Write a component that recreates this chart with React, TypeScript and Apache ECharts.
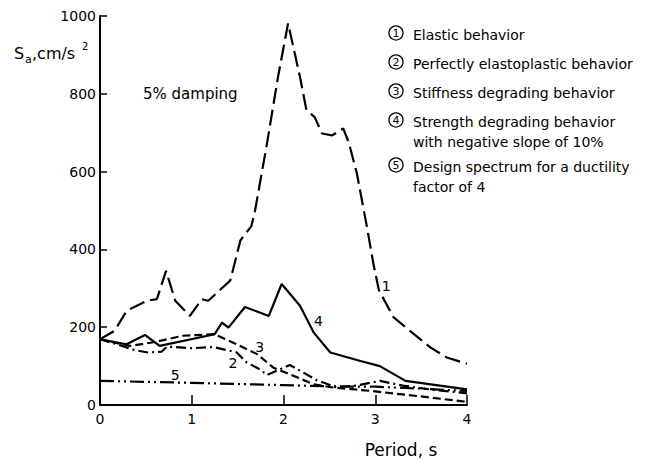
import React, { useEffect, useRef } from "react";
import * as echarts from "echarts";

// ---- Data ----
const elasticX = [0, 0.16, 0.29, 0.51, 0.62, 0.72, 0.82, 0.98, 1.11, 1.18, 1.42, 1.53, 1.65, 1.69, 1.82, 1.94, 2.05, 2.18, 2.25, 2.34, 2.42, 2.53, 2.65, 2.71, 2.8, 2.91, 2.98, 3.04, 3.2, 3.6, 3.78, 4.0];
const elasticY = [169, 191, 242, 268, 272, 345, 268, 229, 272, 268, 320, 423, 460, 500, 672, 843, 981, 843, 758, 740, 698, 693, 711, 676, 595, 457, 363, 295, 225, 148, 122, 106];

const elastoplasticX = [0, 0.2, 0.38, 0.52, 0.67, 0.73, 0.87, 1.0, 1.24, 1.49, 1.6, 1.74, 1.82, 2.07, 2.36, 2.58, 2.8, 3.05, 3.3, 3.6, 4.0];
const elastoplasticY = [169, 155, 141, 135, 137, 150, 148, 146, 149, 135, 109, 92, 77, 103, 64, 45, 50, 62, 50, 40, 30];

const stiffnessX = [0, 0.2, 0.33, 0.6, 0.9, 1.25, 1.49, 1.71, 1.89, 2.07, 2.33, 2.54, 2.96, 3.5, 4.0];
const stiffnessY = [169, 158, 152, 162, 178, 182, 156, 131, 96, 79, 53, 45, 36, 22, 8];

const strengthX = [0, 0.29, 0.49, 0.65, 1.25, 1.33, 1.4, 1.58, 1.84, 1.98, 2.18, 2.33, 2.51, 2.84, 3.05, 3.33, 4.0];
const strengthY = [169, 156, 180, 152, 182, 212, 199, 252, 229, 311, 255, 186, 135, 113, 100, 62, 40];

const designX = [0, 1, 2, 2.5, 3, 3.5, 4];
const designY = [62, 57, 51, 48, 47, 42, 36];

const curveLabels = ["1", "2", "3", "4", "5"];
const curveLabelPos: [number, number][] = [[3.12, 307], [1.45, 109], [1.74, 149], [2.38, 216], [0.82, 77]];

const legendNums = ["1", "2", "3", "4", "5"];
const legendLines = [
  ["Elastic behavior"],
  ["Perfectly elastoplastic behavior"],
  ["Stiffness degrading behavior"],
  ["Strength degrading behavior", "with negative slope of 10%"],
  ["Design spectrum for a ductility", "factor of 4"],
];

const xTicks = [0, 1, 2, 3, 4];
const yTicks = [0, 200, 400, 600, 800, 1000];

const FONT = "DejaVu Sans";

function pairs(xs: number[], ys: number[]) {
  return xs.map((x, i) => [x, ys[i]]);
}

export default function App() {
  const ref = useRef<HTMLDivElement>(null);
  useEffect(() => {
    if (!ref.current) return;
    const chart = echarts.init(ref.current, undefined, { renderer: "svg" });

    const mkLabel = (i: number) => ({
      symbol: "circle",
      symbolSize: 0,
      silent: true,
      label: {
        show: true,
        position: "inside",
        formatter: curveLabels[i],
        color: "#000",
        fontFamily: FONT,
        fontSize: 14,
      },
      data: [{ coord: curveLabelPos[i] }],
    });

    const base = (name: string, data: number[][], type: any, idx: number) => ({
      name,
      type: "line",
      data,
      symbol: "none",
      smooth: false,
      lineStyle: { color: "#000", width: 2.2, type },
      markPoint: mkLabel(idx),
      z: 3,
    });

    // legend graphics
    const rowY = [35, 64, 93, 122, 167];
    const lineGap = 20;
    const graphics: any[] = [];
    legendNums.forEach((n, i) => {
      graphics.push({
        type: "circle",
        shape: { cx: 396, cy: rowY[i] - 2, r: 7 },
        style: { fill: "none", stroke: "#000", lineWidth: 1.3 },
      });
      graphics.push({
        type: "text",
        x: 396,
        y: rowY[i] - 2,
        style: { text: n, fontSize: 11, fontFamily: FONT, fill: "#000", align: "center", verticalAlign: "middle" },
      });
      legendLines[i].forEach((t, j) => {
        graphics.push({
          type: "text",
          x: 413,
          y: rowY[i] + j * lineGap,
          style: { text: t, fontSize: 14, fontFamily: FONT, fill: "#000", align: "left", verticalAlign: "middle" },
        });
      });
    });
    // y-axis title S_a, cm/s^2
    graphics.push(
      { type: "text", x: 14, y: 53, style: { text: "S", fontSize: 16, fontFamily: FONT, fill: "#000", verticalAlign: "middle" } },
      { type: "text", x: 25, y: 59, style: { text: "a", fontSize: 11, fontFamily: FONT, fill: "#000", verticalAlign: "middle" } },
      { type: "text", x: 32, y: 53, style: { text: ",cm/s", fontSize: 16, fontFamily: FONT, fill: "#000", verticalAlign: "middle" } },
      { type: "text", x: 82, y: 46, style: { text: "2", fontSize: 10, fontFamily: FONT, fill: "#000", verticalAlign: "middle" } },
      { type: "text", x: 143, y: 94, style: { text: "5% damping", fontSize: 15, fontFamily: FONT, fill: "#000", verticalAlign: "middle" } },
      { type: "text", x: 401, y: 450, style: { text: "Period, s", fontSize: 17, fontFamily: FONT, fill: "#000", align: "center", verticalAlign: "middle" } }
    );

    chart.setOption({
      animation: false,
      backgroundColor: "#fff",
      grid: { left: 100, right: 191, top: 16, bottom: 55 },
      xAxis: {
        type: "value",
        min: 0,
        max: 4,
        interval: 1,
        axisLine: { show: true, onZero: false, lineStyle: { color: "#000", width: 2 } },
        axisTick: { show: true, inside: true, length: 10, lineStyle: { color: "#000", width: 1.5 } },
        axisLabel: {
          color: "#000",
          fontFamily: FONT,
          fontSize: 14,
          margin: 7,
          formatter: (v: number) => (xTicks.includes(v) ? String(v) : ""),
        },
        splitLine: { show: false },
      },
      yAxis: {
        type: "value",
        min: 0,
        max: 1000,
        interval: 200,
        axisLine: { show: true, onZero: false, lineStyle: { color: "#000", width: 2 } },
        axisTick: { show: true, inside: true, length: 7, lineStyle: { color: "#000", width: 1.5 } },
        axisLabel: {
          color: "#000",
          fontFamily: FONT,
          fontSize: 14,
          margin: 4,
          formatter: (v: number) => (yTicks.includes(v) ? String(v) : ""),
        },
        splitLine: { show: false },
      },
      series: [
        base("Elastic behavior", pairs(elasticX, elasticY), [16, 6], 0),
        base("Perfectly elastoplastic behavior", pairs(elastoplasticX, elastoplasticY), [10, 4, 2, 4], 1),
        base("Stiffness degrading behavior", pairs(stiffnessX, stiffnessY), [8, 4], 2),
        base("Strength degrading behavior", pairs(strengthX, strengthY), "solid", 3),
        base("Design spectrum", pairs(designX, designY), [14, 4, 2, 4, 2, 4], 4),
      ],
      graphic: graphics,
    });
    return () => chart.dispose();
  }, []);
  return <div ref={ref} style={{ width: 658, height: 460, position: "absolute", left: 0, top: 0, background: "#fff" }} />;
}
